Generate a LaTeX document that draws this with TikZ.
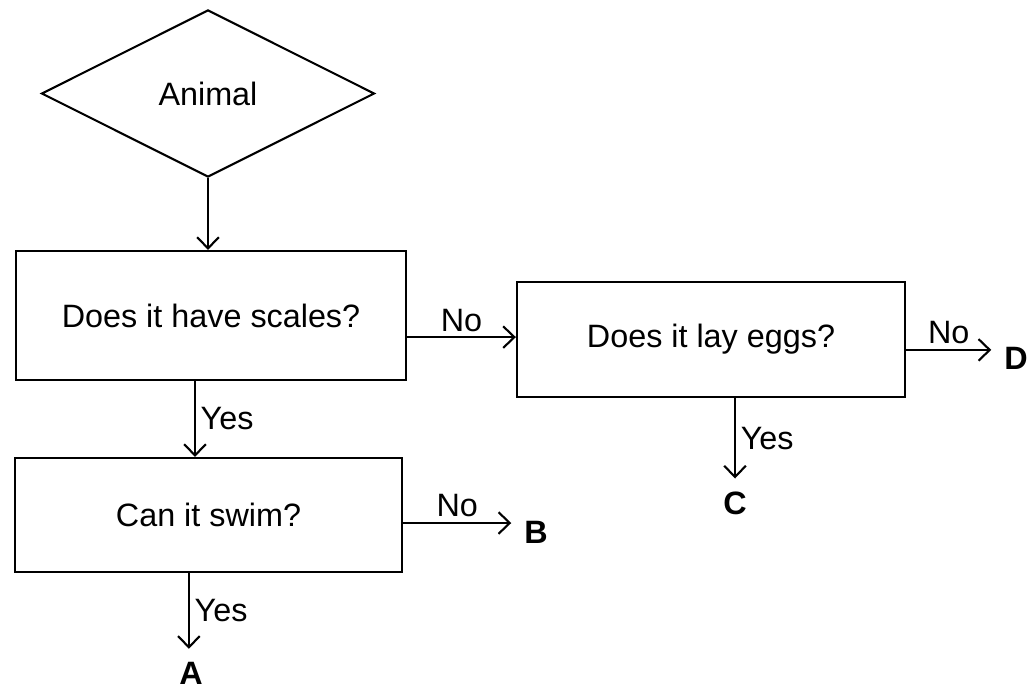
\documentclass[tikz,border=0pt]{standalone}
\usepackage{fontspec}
\setmainfont{Liberation Sans}
\usetikzlibrary{shapes.geometric,arrows.meta}
\tikzset{
    > = {Straight Barb[length=2.8mm,width=5.4mm]}
}
\begin{document}
\begin{tikzpicture}[x=0.025cm, y=-0.025cm, line width=1.5pt, font=\fontsize{23}{27}\selectfont]
        \tikzstyle{qbox}=[draw, rectangle, inner sep=0pt]
        \tikzstyle{ans}=[font=\fontsize{23}{27}\selectfont\bfseries, inner sep=0.3cm]
        \useasboundingbox (0,0) rectangle (1031,692);
        \node[draw, diamond, minimum width=8.325cm, minimum height=4.175cm, inner sep=0pt] (animal) at (208,93.5) {Animal};
        \node[qbox, minimum width=9.75cm, minimum height=3.225cm] (scales) at (211,315.5) {Does it have scales?};
        \node[qbox, minimum width=9.7cm, minimum height=2.875cm] (eggs) at (711,339.5) {Does it lay eggs?};
        \node[qbox, minimum width=9.675cm, minimum height=2.85cm] (swim) at (208.5,515) {Can it swim?};
        \node[ans] (A) at (191,673) {A};
        \node[ans] (B) at (536,532) {B};
        \node[ans] (C) at (735,503) {C};
        \node[ans] (D) at (1016,358) {D};
        \draw[->] (animal.south) -- (animal.south |- scales.north);
        \coordinate (s1) at ([yshift=-0.54cm]scales.east);
        \draw[->] (s1) -- (s1 -| eggs.west) node[midway, above] {No};
        \coordinate (s2) at ([xshift=-0.4cm]scales.south);
        \draw[->] (s2) -- (s2 |- swim.north) node[midway, right] {Yes};
        \coordinate (w1) at ([yshift=-0.2cm]swim.east);
        \draw[->] (w1) -- (w1 -| B.west) node[midway, above] {No};
        \coordinate (w2) at ([xshift=-0.49cm]swim.south);
        \draw[->] (w2) -- (w2 |- A.north) node[midway, right] {Yes};
        \coordinate (e1) at ([yshift=-0.26cm]eggs.east);
        \draw[->] (e1) -- (e1 -| D.west) node[midway, above] {No};
        \coordinate (e2) at ([xshift=0.6cm]eggs.south);
        \draw[->] (e2) -- (e2 |- C.north) node[midway, right] {Yes};
    \end{tikzpicture}
\end{document}
